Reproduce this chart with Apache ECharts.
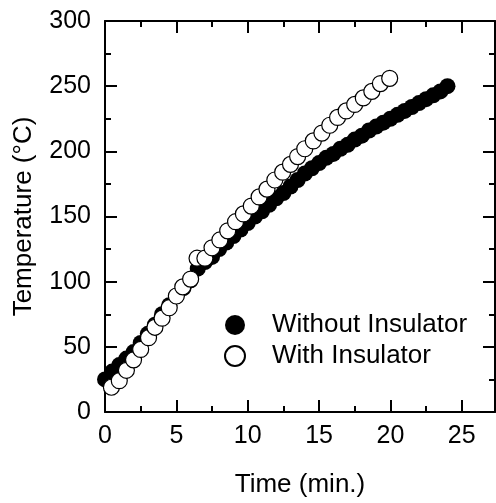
<!DOCTYPE html>
<html>
<head>
<meta charset="utf-8">
<script src="https://cdn.jsdelivr.net/npm/echarts@6/dist/echarts.min.js"></script>
<style>
html,body{margin:0;padding:0;background:#fff;}
#chart{width:496px;height:503px;}
</style>
</head>
<body>
<div id="chart"></div>
<script>
// ---- data ----
const seriesNames = ['Without Insulator', 'With Insulator'];

const withoutTime = [0, 0.5, 1, 1.5, 2, 2.5, 3, 3.5, 4, 4.5, 5, 5.5, 6, 6.5, 7, 7.5, 8, 8.5, 9, 9.5,
  10, 10.5, 11, 11.5, 12, 12.5, 13, 13.5, 14, 14.5, 15, 15.5, 16, 16.5, 17, 17.5, 18, 18.5, 19, 19.5,
  20, 20.5, 21, 21.5, 22, 22.5, 23, 23.5, 24];
const withoutTemp = [25, 31, 36, 41, 46, 53, 60, 67, 75, 82, 89, 95, 101, 110, 115, 119, 125, 130, 135, 140,
  145, 150, 154, 159, 164, 168, 173, 178, 183, 187, 191, 195, 198, 202, 205, 209, 212, 216, 219, 222,
  225, 228, 231, 234, 237, 240, 243, 246, 250];

const withTime = [0.45, 1.0, 1.5, 2.0, 2.5, 3.05, 3.5, 4.0, 4.5, 5.0, 5.45, 6.0, 6.45, 7.0, 7.5, 8.05, 8.6,
  9.15, 9.7, 10.25, 10.8, 11.35, 11.9, 12.45, 13.0, 13.5, 14.0, 14.6, 15.2, 15.75, 16.3, 16.9, 17.5,
  18.1, 18.7, 19.3, 19.95];
const withTemp = [19, 24, 32, 40, 48, 57, 65, 72, 80, 89, 96, 102, 118, 118, 126, 132, 139,
  146, 152, 158, 165, 171, 178, 184, 190, 196, 202, 208, 214, 220, 226, 231, 236,
  241, 246, 252, 256];

const xTicks = [0, 5, 10, 15, 20, 25];
const yTicks = [0, 50, 100, 150, 200, 250, 300];

// ---- chart ----
const zip = (a, b) => a.map((v, i) => [v, b[i]]);
const FONT = 'Liberation Sans, Arial, sans-serif';
const black = '#000';

function axisCommon(extra) {
  return Object.assign({
    axisLine: { show: true, onZero: false, lineStyle: { color: black, width: 2 } },
    axisTick: { show: true, inside: true, length: 12, lineStyle: { color: black, width: 2 } },
    minorTick: { show: true, splitNumber: 2, length: 6, lineStyle: { color: black, width: 2 } },
    splitLine: { show: false },
    minorSplitLine: { show: false }
  }, extra);
}

const xMax = 27.33;
const chart = echarts.init(document.getElementById('chart'), null, { renderer: 'canvas' });
chart.setOption({
  animation: false,
  backgroundColor: '#fff',
  grid: { left: 105, right: 1, top: 21, bottom: 89, containLabel: false },
  xAxis: [
    axisCommon({
      type: 'value', position: 'bottom', min: 0, max: xMax, interval: 5,
      name: 'Time (min.)', nameLocation: 'middle', nameGap: 60,
      nameTextStyle: { fontSize: 26, color: black, fontFamily: FONT },
      axisLabel: {
        show: true, margin: 12, fontSize: 25, color: black, fontFamily: FONT,
        showMaxLabel: false,
        formatter: v => (xTicks.indexOf(v) >= 0 ? String(v) : '')
      }
    }),
    axisCommon({
      type: 'value', position: 'top', min: 0, max: xMax, interval: 5,
      axisLabel: { show: false }
    })
  ],
  yAxis: [
    axisCommon({
      type: 'value', position: 'left', min: 0, max: 300, interval: 50,
      name: 'Temperature (°C)', nameLocation: 'middle', nameGap: 68, nameRotate: 90,
      nameTextStyle: { fontSize: 26, color: black, fontFamily: FONT },
      axisLabel: {
        show: true, margin: 14, fontSize: 25, color: black, fontFamily: FONT,
        formatter: v => (yTicks.indexOf(v) >= 0 ? String(v) : '')
      }
    }),
    axisCommon({
      type: 'value', position: 'right', min: 0, max: 300, interval: 50,
      axisLabel: { show: false }
    })
  ],
  legend: {
    left: 219, top: 307, orient: 'vertical',
    itemWidth: 20, itemHeight: 20, itemGap: 5,
    icon: 'circle',
    textStyle: { fontSize: 26, color: black, fontFamily: FONT, padding: [0, 0, 0, 22] },
    data: seriesNames
  },
  series: [
    {
      name: seriesNames[0], type: 'scatter', xAxisIndex: 0, yAxisIndex: 0,
      symbol: 'circle', symbolSize: 16,
      itemStyle: { color: black, opacity: 1 },
      emphasis: { disabled: true },
      data: zip(withoutTime, withoutTemp)
    },
    {
      name: seriesNames[1], type: 'scatter', xAxisIndex: 0, yAxisIndex: 0,
      symbol: 'circle', symbolSize: 16,
      itemStyle: { color: '#fff', borderColor: black, borderWidth: 1.2, opacity: 1 },
      emphasis: { disabled: true },
      data: zip(withTime, withTemp)
    }
  ]
});
</script>
</body>
</html>
